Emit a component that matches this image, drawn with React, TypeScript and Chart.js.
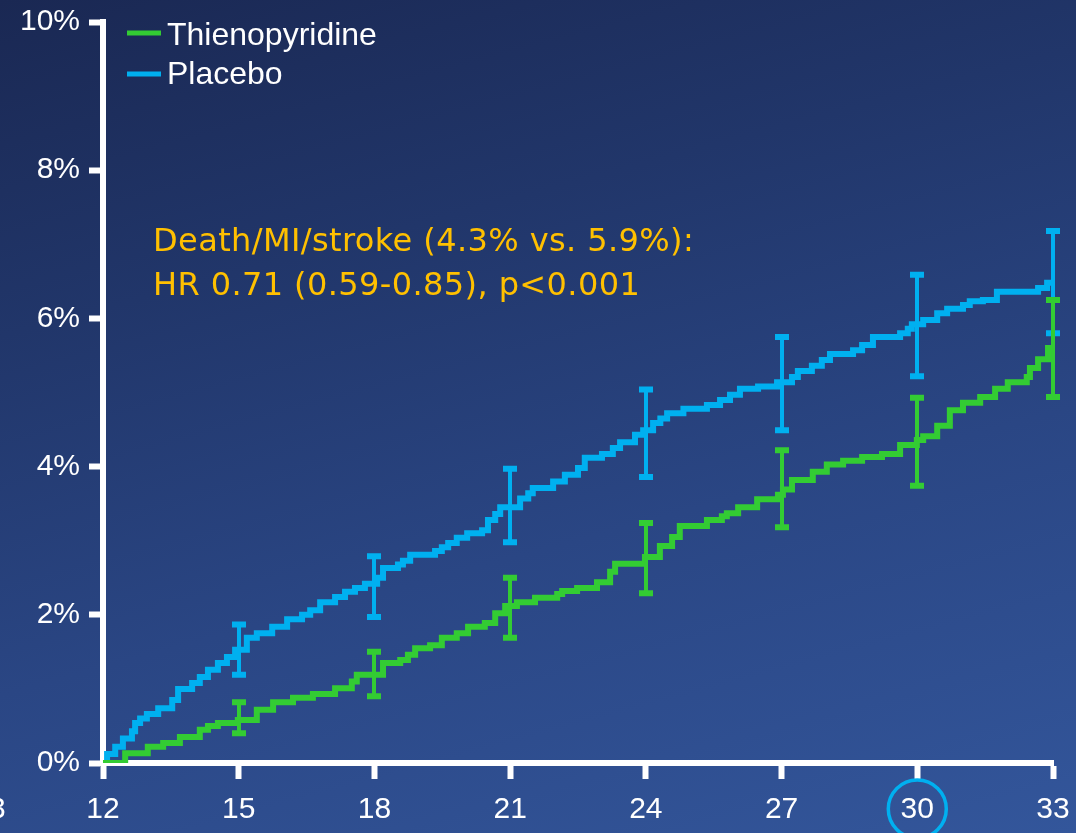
import { useEffect, useRef } from "react";
import { Chart, registerables } from "chart.js";

Chart.register(...registerables);

// ---- data ----
const seriesLabels = ["Thienopyridine", "Placebo"];
const seriesColors = ["#33cc33", "#00b0f0"];

// [month, cumulative event rate %] – a step occurs at each listed month
const thienoSteps: [number, number][] = [
  [12, 0], [12.49, 0.13], [12.99, 0.22], [13.33, 0.27], [13.7, 0.35], [14.14, 0.45], [14.32, 0.5],
  [14.54, 0.54], [14.98, 0.58], [15.4, 0.72], [15.76, 0.82], [16.2, 0.88], [16.64, 0.93], [17.13, 1.01],
  [17.5, 1.1], [17.61, 1.19], [18.19, 1.35], [18.57, 1.39], [18.74, 1.46], [18.9, 1.55], [19.23, 1.59],
  [19.49, 1.69], [19.82, 1.75], [20.07, 1.84], [20.44, 1.89], [20.67, 2.02], [20.89, 2.12], [21.15, 2.17],
  [21.55, 2.23], [22.04, 2.28], [22.15, 2.32], [22.48, 2.36], [22.92, 2.44], [23.21, 2.58], [23.32, 2.69],
  [23.98, 2.78], [24.31, 2.93], [24.58, 3.05], [24.75, 3.2], [25.35, 3.28], [25.68, 3.33], [25.79, 3.37],
  [26.04, 3.45], [26.46, 3.56], [26.92, 3.62], [27.03, 3.69], [27.23, 3.82], [27.69, 3.93], [28.0, 4.03],
  [28.36, 4.08], [28.78, 4.13], [29.22, 4.17], [29.62, 4.29], [29.99, 4.36], [30.13, 4.41], [30.44, 4.55],
  [30.72, 4.76], [31.01, 4.86], [31.39, 4.94], [31.72, 5.05], [32.0, 5.14], [32.42, 5.21], [32.49, 5.33],
  [32.67, 5.45], [32.89, 5.6], [33, 5.6],
];

const placeboSteps: [number, number][] = [
  [12, 0], [12.09, 0.12], [12.27, 0.22], [12.44, 0.33], [12.64, 0.43], [12.71, 0.54], [12.82, 0.6],
  [12.97, 0.66], [13.22, 0.74], [13.53, 0.85], [13.66, 1.0], [13.97, 1.08], [14.14, 1.16], [14.32, 1.26],
  [14.54, 1.35], [14.74, 1.43], [14.92, 1.53], [15.18, 1.69], [15.4, 1.75], [15.74, 1.84], [16.07, 1.94],
  [16.4, 2.0], [16.58, 2.06], [16.8, 2.17], [17.13, 2.24], [17.35, 2.31], [17.57, 2.36], [17.79, 2.42],
  [18.06, 2.5], [18.19, 2.63], [18.52, 2.68], [18.63, 2.73], [18.79, 2.81], [19.34, 2.86], [19.49, 2.91],
  [19.63, 2.97], [19.82, 3.04], [20.05, 3.1], [20.38, 3.14], [20.51, 3.28], [20.67, 3.36], [20.78, 3.45],
  [21.22, 3.57], [21.4, 3.64], [21.5, 3.71], [21.95, 3.8], [22.21, 3.89], [22.5, 3.98], [22.65, 4.12],
  [23.03, 4.17], [23.27, 4.25], [23.43, 4.33], [23.76, 4.43], [23.94, 4.49], [24.16, 4.59], [24.32, 4.65],
  [24.47, 4.72], [24.83, 4.78], [25.35, 4.83], [25.64, 4.9], [25.86, 4.97], [26.08, 5.05], [26.48, 5.08],
  [26.9, 5.14], [27.23, 5.21], [27.36, 5.29], [27.67, 5.36], [27.89, 5.44], [28.07, 5.52], [28.58, 5.57],
  [28.78, 5.64], [29.02, 5.75], [29.62, 5.8], [29.79, 5.86], [29.88, 5.92], [30.13, 5.98], [30.44, 6.07],
  [30.66, 6.13], [31.01, 6.18], [31.16, 6.23], [31.45, 6.25], [31.76, 6.36], [32.67, 6.41], [32.87, 6.48],
  [33, 6.48],
];

// 95% confidence intervals
const errorMonths = [15, 18, 21, 24, 27, 30, 33];
const thienoErrLow = [0.4, 0.9, 1.69, 2.29, 3.18, 3.74, 4.94];
const thienoErrHigh = [0.82, 1.5, 2.5, 3.24, 4.22, 4.93, 6.25];
const placeboErrLow = [1.19, 1.97, 2.98, 3.86, 4.49, 5.22, 5.8];
const placeboErrHigh = [1.87, 2.79, 3.97, 5.04, 5.75, 6.59, 7.18];

const xMin = 12;
const xMax = 33;
const xStep = 3;
const yMin = 0;
const yMax = 10;
const yStep = 2;
const highlightedMonth = 30;
const strayLeftLabel = "3";

const annotationLines = ["Death/MI/stroke (4.3% vs. 5.9%):", "HR 0.71 (0.59-0.85), p<0.001"];

const tickFont = '"Liberation Sans", Arial, sans-serif';

const overlayPlugin = {
  id: "overlay",
  afterDatasetsDraw(chart: any) {
    const ctx = chart.ctx as CanvasRenderingContext2D;
    const xs = chart.scales.x;
    const ys = chart.scales.y;
    const groups: [number[], number[], string][] = [
      [placeboErrLow, placeboErrHigh, seriesColors[1]],
      [thienoErrLow, thienoErrHigh, seriesColors[0]],
    ];
    ctx.save();
    for (const [lo, hi, color] of groups) {
      ctx.strokeStyle = color;
      errorMonths.forEach((m, i) => {
        const x = Math.round(xs.getPixelForValue(m));
        const y1 = ys.getPixelForValue(lo[i]);
        const y2 = ys.getPixelForValue(hi[i]);
        ctx.lineWidth = 4;
        ctx.beginPath();
        ctx.moveTo(x, y1);
        ctx.lineTo(x, y2);
        ctx.stroke();
        ctx.lineWidth = 6;
        ctx.beginPath();
        ctx.moveTo(x - 7, y1);
        ctx.lineTo(x + 7, y1);
        ctx.moveTo(x - 7, y2);
        ctx.lineTo(x + 7, y2);
        ctx.stroke();
      });
    }
    ctx.restore();
  },
  afterDraw(chart: any) {
    const ctx = chart.ctx as CanvasRenderingContext2D;
    const xs = chart.scales.x;
    ctx.save();
    // legend
    const legendY = [33, 74];
    const legendBase = [45, 84];
    seriesLabels.forEach((label, i) => {
      ctx.strokeStyle = seriesColors[i];
      ctx.lineWidth = 5;
      ctx.beginPath();
      ctx.moveTo(127, legendY[i]);
      ctx.lineTo(161, legendY[i]);
      ctx.stroke();
      ctx.fillStyle = "#ffffff";
      ctx.font = `32px ${tickFont}`;
      ctx.textAlign = "left";
      ctx.textBaseline = "alphabetic";
      ctx.fillText(label, 167, legendBase[i]);
    });
    // annotation
    ctx.fillStyle = "#ffc000";
    ctx.font = '32px "DejaVu Sans", Tahoma, Verdana, sans-serif';
    (ctx as any).letterSpacing = "0.4px";
    annotationLines.forEach((line, i) => {
      ctx.fillText(line, 153, 251 + i * 44);
    });
    (ctx as any).letterSpacing = "0px";
    // highlight circle around a tick label
    ctx.strokeStyle = "#00b0f0";
    ctx.lineWidth = 3.5;
    ctx.beginPath();
    ctx.arc(xs.getPixelForValue(highlightedMonth), 809, 29, 0, Math.PI * 2);
    ctx.stroke();
    // clipped label fragment at the left edge
    ctx.fillStyle = "#ffffff";
    ctx.font = `30px ${tickFont}`;
    ctx.textBaseline = "middle";
    ctx.fillText(strayLeftLabel, -11, 810);
    ctx.restore();
  },
};

export default function App() {
  const canvasRef = useRef<HTMLCanvasElement | null>(null);

  useEffect(() => {
    if (!canvasRef.current) return;
    const chart = new Chart(canvasRef.current, {
      type: "line",
      data: {
        datasets: [
          {
            label: seriesLabels[0],
            data: thienoSteps.map(([x, y]) => ({ x, y })),
            borderColor: seriesColors[0],
            backgroundColor: seriesColors[0],
            borderWidth: 6,
            pointRadius: 0,
            stepped: "before",
            fill: false,
          },
          {
            label: seriesLabels[1],
            data: placeboSteps.map(([x, y]) => ({ x, y })),
            borderColor: seriesColors[1],
            backgroundColor: seriesColors[1],
            borderWidth: 6,
            pointRadius: 0,
            stepped: "before",
            fill: false,
          },
        ],
      },
      options: {
        animation: false,
        responsive: true,
        maintainAspectRatio: false,
        layout: { padding: { left: 0, top: 22, right: 23, bottom: 0 } },
        plugins: { legend: { display: false }, tooltip: { enabled: false } },
        scales: {
          x: {
            type: "linear",
            min: xMin,
            max: xMax,
            afterFit: (s: any) => {
              s.height = 70;
              s.paddingLeft = 0;
              s.paddingRight = 0;
            },
            ticks: {
              stepSize: xStep,
              color: "#ffffff",
              font: { family: tickFont, size: 30 },
              padding: 13,
              maxRotation: 0,
            },
            grid: {
              drawOnChartArea: false,
              drawTicks: true,
              tickLength: 16,
              tickWidth: 6,
              tickColor: "#ffffff",
            },
            border: { display: true, color: "#ffffff", width: 6 },
          },
          y: {
            min: yMin,
            max: yMax,
            afterFit: (s: any) => {
              s.width = 103;
              s.paddingTop = 0;
              s.paddingBottom = 0;
            },
            ticks: {
              stepSize: yStep,
              color: "#ffffff",
              font: { family: tickFont, size: 30 },
              padding: 9,
              callback: (v: any) => `${v}%`,
            },
            grid: {
              drawOnChartArea: false,
              drawTicks: true,
              tickLength: 14,
              tickWidth: 6,
              tickColor: "#ffffff",
            },
            border: { display: true, color: "#ffffff", width: 6 },
          },
        },
      },
      plugins: [overlayPlugin],
    });
    return () => chart.destroy();
  }, []);

  return (
    <div
      style={{
        position: "fixed",
        left: 0,
        top: 0,
        width: 1076,
        height: 833,
        background:
          "linear-gradient(165deg, #1a2853 0%, #21366a 30%, #2a4684 62%, #33569b 100%)",
      }}
    >
      <canvas ref={canvasRef} />
    </div>
  );
}
